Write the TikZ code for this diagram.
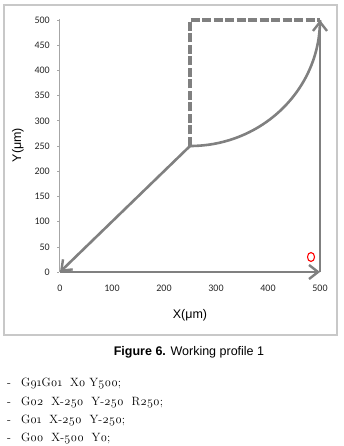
\documentclass[tikz,border=0pt]{standalone}
\usepackage{fontspec}
\setmainfont{Latin Modern Roman}
\newfontfamily\armo{Liberation Sans}
\newfontfamily\cali{Carlito}
\newfontfamily\oldnum[Numbers=OldStyle]{Latin Modern Roman}
\usetikzlibrary{arrows.meta,shapes.geometric}
\definecolor{pathgrey}{HTML}{808080}
\definecolor{boxgrey}{HTML}{C8C8C8}
\tikzset{
  pathline/.style={draw=pathgrey, line width=2.6pt},
  patharrow/.style={pathline, -{Straight Barb[length=9pt,width=14pt,line width=2.4pt]}},
  dashline/.style={draw=pathgrey, line width=3.4pt, dash pattern=on 9pt off 2.5pt},
  ticklab/.style={font=\cali\fontsize{10}{11}\selectfont, text=black!85, inner sep=1pt},
  listline/.style={anchor=west, font=\oldnum\fontsize{12}{14}\selectfont, inner sep=0pt}
}
\begin{document}
\begin{tikzpicture}[x=1pt,y=1pt]
\useasboundingbox (0,0) rectangle (344,-446);
% chart frame
\draw[boxgrey, line width=1.4pt] (4,-5) rectangle (337,-335);
% y axis
\draw[black!35, line width=0.6pt] (59,-19) -- (59,-272);
\foreach \v in {0,50,...,500} {
  \draw[black!35, line width=0.6pt] (57,{-272+0.504*\v}) -- (59,{-272+0.504*\v});
  \node[ticklab, anchor=east] (yt\v) at (51,{-272+0.504*\v}) {\v};
}
\foreach \v in {0,100,...,500} {
  \node[ticklab, anchor=north] (xt\v) at ({60+0.52*\v},-284) {\v};
}
\node[font=\armo\fontsize{12.5}{14}\selectfont, rotate=90] (ylab) at (18,-145) {Y(μm)};
\node[font=\armo\fontsize{12.5}{14}\selectfont] (xlab) at (190,-315) {X(μm)};
% path points
\coordinate (O) at (60,-272);
\coordinate (A) at (320,-272);
\coordinate (B) at (320,-20);
\coordinate (C) at (190,-146);
\coordinate (D) at (190,-20);
% dashed rapid moves
\draw[dashline] (C) -- (D) -- (B);
% arc G02
\draw[pathline] (B) arc[start angle=0, end angle=-90, x radius=130, y radius=126];
% lines
\draw[patharrow] (C) -- (O);
\draw[patharrow] (O) -- (A);
\draw[patharrow] (A) -- (B);
% red origin mark
\node[draw=red, line width=1.1pt, ellipse, minimum width=7pt, minimum height=9pt, inner sep=0pt] (org) at (311,-257) {};
% caption
\node[font=\armo\fontsize{12.5}{14}\selectfont] (cap) at (189,-352) {\textbf{Figure 6.} Working profile 1};
% program listing
\node[listline] (l1) at (7,-384) {-\hspace{10pt}G91G01\ \ X0 Y500;};
\node[listline] (l2) at (7,-403) {-\hspace{10pt}G02\ \ X-250\ \ Y-250\ \ R250;};
\node[listline] (l3) at (7,-421) {-\hspace{10pt}G01\ \ X-250\ \ Y-250;};
\node[listline] (l4) at (7,-439) {-\hspace{10pt}G00\ \ X-500\ \ Y0;};
\end{tikzpicture}
\end{document}
